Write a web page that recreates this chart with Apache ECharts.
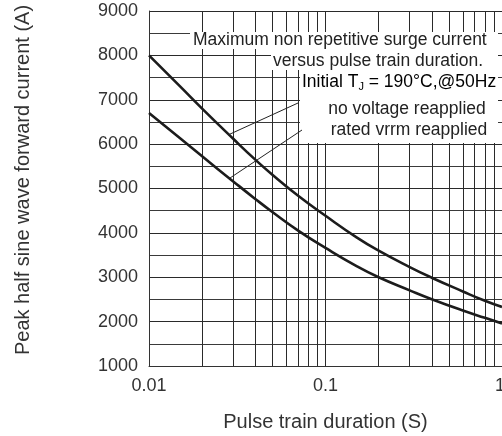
<!DOCTYPE html>
<html>
<head>
<meta charset="utf-8">
<script src="https://cdn.jsdelivr.net/npm/echarts@6/dist/echarts.min.js"></script>
<style>
  html, body { margin: 0; padding: 0; background: #ffffff; }
  #chart { width: 502px; height: 436px; }
</style>
</head>
<body>
<div id="chart"></div>
<script>
// Pulse train duration (s) sampled along the log axis
const durations = [0.01, 0.015, 0.02, 0.03, 0.04, 0.05, 0.07, 0.1, 0.15, 0.2, 0.3, 0.4, 0.6, 0.8, 1];
// Peak half sine wave forward current (A), no voltage reapplied
const noVoltageCurrent = [8000, 7300, 6800, 6120, 5650, 5310, 4835, 4385, 3900, 3600, 3230, 2990, 2680, 2470, 2330];
// Peak half sine wave forward current (A), rated VRRM reapplied
const ratedVrrmCurrent = [6700, 6130, 5725, 5160, 4765, 4470, 4050, 3660, 3250, 3000, 2705, 2505, 2250, 2085, 1960];
// Intermediate log-decade grid positions (2..9 in each decade)
const logGridLines = [0.02, 0.03, 0.04, 0.05, 0.06, 0.07, 0.08, 0.09, 0.2, 0.3, 0.4, 0.5, 0.6, 0.7, 0.8, 0.9];
// Axis ranges
const xRange = [0.01, 1];
const yRange = [1000, 9000];
const yStep = 1000;

const FONT = '"Liberation Sans", Arial, Helvetica, sans-serif';
const chart = echarts.init(document.getElementById('chart'), null, { renderer: 'canvas' });

const pairs = (xs, ys) => xs.map((x, i) => [x, ys[i]]);

const curveStyle = { color: '#1c1c1c', width: 2.6 };
const captionFont = '17.5px ' + FONT;

chart.setOption({
  animation: false,
  backgroundColor: '#ffffff',
  textStyle: { fontFamily: FONT },
  grid: { left: 149, right: 0, top: 11, bottom: 70, containLabel: false, outerBoundsMode: 'none' },
  xAxis: {
    type: 'log',
    logBase: 10,
    min: xRange[0],
    max: xRange[1],
    name: 'Pulse train duration (S)',
    nameLocation: 'middle',
    nameGap: 46,
    nameTextStyle: { fontSize: 20, color: '#333', fontFamily: FONT },
    axisLine: { show: true, lineStyle: { color: '#333', width: 1 } },
    axisTick: { show: false },
    axisLabel: {
      fontSize: 18, color: '#333', margin: 11, fontFamily: FONT,
      // the last label sits against the right edge of the plot
      formatter: v => (v === xRange[1] ? '{edge|' + v + '}' : String(v)),
      rich: {
        edge: { fontSize: 18, color: '#333', fontFamily: FONT, width: 6, align: 'right' }
      }
    },
    splitLine: { show: true, lineStyle: { color: '#2a2a2a', width: 1 } }
  },
  yAxis: {
    type: 'value',
    min: yRange[0],
    max: yRange[1],
    interval: yStep,
    axisLine: { show: true, lineStyle: { color: '#333', width: 1 } },
    axisTick: { show: false },
    axisLabel: { fontSize: 18, color: '#333', margin: 11, fontFamily: FONT, formatter: v => String(v) },
    splitLine: { show: true, lineStyle: { color: '#2a2a2a', width: 1 } },
    minorTick: { show: false, splitNumber: 2 },
    minorSplitLine: { show: true, lineStyle: { color: '#3a3a3a', width: 1 } }
  },
  series: [
    {
      name: 'no voltage reapplied',
      type: 'line',
      data: pairs(durations, noVoltageCurrent),
      smooth: true,
      symbol: 'none',
      z: 3,
      lineStyle: curveStyle,
      markLine: {
        z: 1,
        silent: true,
        symbol: 'none',
        label: { show: false },
        lineStyle: { color: '#2a2a2a', width: 1, type: 'solid' },
        emphasis: { disabled: true },
        data: logGridLines.map(v => ({ xAxis: v }))
      }
    },
    {
      name: 'rated vrrm reapplied',
      type: 'line',
      data: pairs(durations, ratedVrrmCurrent),
      smooth: true,
      symbol: 'none',
      z: 3,
      lineStyle: curveStyle
    }
  ],
  graphic: [
    // white panels behind the caption
    { type: 'rect', z: 50, shape: { x: 190, y: 32, width: 308, height: 17 }, style: { fill: '#fff' } },
    { type: 'rect', z: 50, shape: { x: 271, y: 49, width: 227, height: 21 }, style: { fill: '#fff' } },
    { type: 'rect', z: 50, shape: { x: 300, y: 70, width: 198, height: 73 }, style: { fill: '#fff' } },
    // caption text
    { type: 'text', z: 60, left: 193, top: 31,
      style: { text: 'Maximum non repetitive surge current', font: captionFont, fill: '#222' } },
    { type: 'text', z: 60, left: 273, top: 52,
      style: { text: 'versus pulse train duration.', font: captionFont, fill: '#222' } },
    { type: 'text', z: 60, left: 302, top: 73,
      style: {
        text: '{a|Initial T}{s|J}{a| = 190°C,@50Hz}',
        rich: {
          a: { fontSize: 17.5, lineHeight: 20, fontFamily: FONT, color: '#222' },
          s: { fontSize: 11, lineHeight: 11, fontFamily: FONT, verticalAlign: 'bottom', color: '#222' }
        }
      } },
    { type: 'text', z: 60, x: 407, y: 109,
      style: { text: 'no voltage reapplied', font: captionFont, fill: '#222', align: 'center', verticalAlign: 'middle' } },
    { type: 'text', z: 60, x: 409, y: 130,
      style: { text: 'rated vrrm reapplied', font: captionFont, fill: '#222', align: 'center', verticalAlign: 'middle' } },
    // leader lines from the labels to the curves
    { type: 'line', z: 60, shape: { x1: 298, y1: 103, x2: 228, y2: 135 }, style: { stroke: '#222', lineWidth: 1 } },
    { type: 'line', z: 60, shape: { x1: 302, y1: 130, x2: 230, y2: 178 }, style: { stroke: '#222', lineWidth: 1 } },
    // y axis title
    { type: 'text', z: 60, x: 23, y: 180, rotation: Math.PI / 2,
      style: { text: 'Peak half sine wave forward current (A)', font: '20px ' + FONT, fill: '#333', align: 'center', verticalAlign: 'middle' } }
  ]
});
</script>
</body>
</html>
